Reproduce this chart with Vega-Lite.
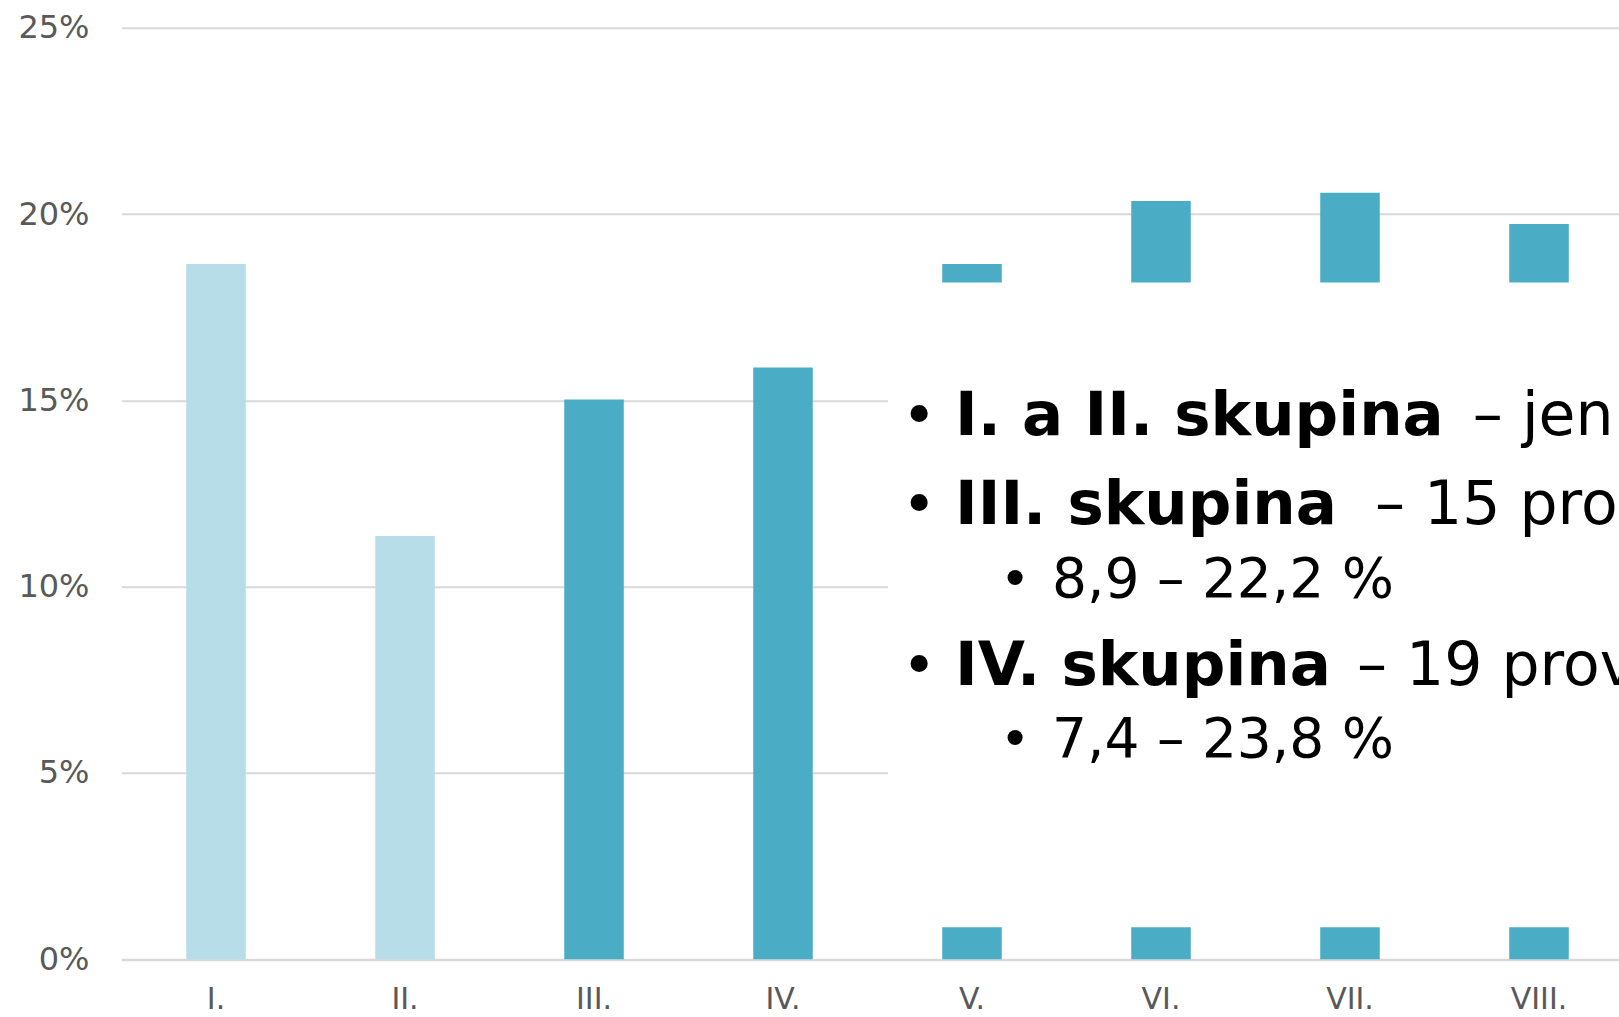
{
  "$schema": "https://vega.github.io/schema/vega-lite/v6.json",
  "usermeta": {"embedOptions": {"actions": false}},
  "width": 1490.5,
  "height": 931.5,
  "autosize": {"type": "none"},
  "padding": {"left": 121.5, "top": 27.7, "right": 7, "bottom": 57.8},
  "background": "white",
  "config": {"view": {"stroke": null}, "font": "DejaVu Sans"},
  "datasets": {
    "bars": [
      {"skupina": "I.", "typ": "I.–II.", "podil": 18.66},
      {"skupina": "II.", "typ": "I.–II.", "podil": 11.36},
      {"skupina": "III.", "typ": "III.–VIII.", "podil": 15.02},
      {"skupina": "IV.", "typ": "III.–VIII.", "podil": 15.88},
      {"skupina": "V.", "typ": "III.–VIII.", "podil": 18.66},
      {"skupina": "VI.", "typ": "III.–VIII.", "podil": 20.35},
      {"skupina": "VII.", "typ": "III.–VIII.", "podil": 20.57},
      {"skupina": "VIII.", "typ": "III.–VIII.", "podil": 19.73}
    ],
    "box": [{"x0": 4.056, "x1": 8.3, "y0": 0.86, "y1": 18.16}],
    "notes": [
      {"radek": 1, "cast": "odrazka1", "text": "•", "x": 4.22, "y": 14.08},
      {"radek": 1, "cast": "nadpis", "text": "I. a II. skupina", "x": 4.41, "y": 14.08},
      {"radek": 1, "cast": "popis", "text": "– jen", "x": 7.15, "y": 14.08},
      {"radek": 2, "cast": "odrazka1", "text": "•", "x": 4.22, "y": 11.68},
      {"radek": 2, "cast": "nadpis", "text": "III. skupina", "x": 4.41, "y": 11.68},
      {"radek": 2, "cast": "popis", "text": "– 15 provozoven", "x": 6.632, "y": 11.68},
      {"radek": 3, "cast": "odrazka2", "text": "•", "x": 4.728, "y": 9.73},
      {"radek": 3, "cast": "rozsah", "text": "8,9 – 22,2 %", "x": 4.923, "y": 9.73},
      {"radek": 4, "cast": "odrazka1", "text": "•", "x": 4.22, "y": 7.36},
      {"radek": 4, "cast": "nadpis", "text": "IV. skupina", "x": 4.41, "y": 7.36},
      {"radek": 4, "cast": "popis", "text": "– 19 provozoven", "x": 6.537, "y": 7.36},
      {"radek": 5, "cast": "odrazka2", "text": "•", "x": 4.728, "y": 5.43},
      {"radek": 5, "cast": "rozsah", "text": "7,4 – 23,8 %", "x": 4.923, "y": 5.43}
    ]
  },
  "resolve": {"scale": {"x": "independent"}},
  "layer": [
    {
      "data": {"name": "bars"},
      "mark": {"type": "bar"},
      "encoding": {
        "x": {
          "field": "skupina", "type": "nominal", "sort": null,
          "scale": {"range": [0, 1512], "paddingInner": 0.685, "paddingOuter": 0.3425},
          "axis": {
            "title": null, "labelAngle": 0, "labelFont": "DejaVu Sans", "labelFontSize": 30,
            "labelColor": "#595959", "labelPadding": 49, "labelBaseline": "alphabetic",
            "ticks": false, "tickSize": 0,
            "domainColor": "#d9d9d9", "domainWidth": 2, "grid": false
          }
        },
        "y": {
          "field": "podil", "type": "quantitative",
          "scale": {"domain": [0, 25], "nice": false},
          "axis": {
            "title": null, "values": [0, 5, 10, 15, 20, 25], "labelExpr": "datum.value + '%'",
            "labelFont": "DejaVu Sans", "labelFontSize": 32, "labelColor": "#595959",
            "labelPadding": 32.5, "ticks": false, "tickSize": 0, "domain": false,
            "grid": true, "gridColor": "#d9d9d9", "gridWidth": 2
          }
        },
        "color": {
          "field": "typ", "type": "nominal",
          "scale": {"domain": ["I.–II.", "III.–VIII."], "range": ["#b7dee8", "#4bacc6"]},
          "legend": null
        }
      }
    },
    {
      "layer": [
        {
          "data": {"name": "box"},
          "mark": {"type": "rect", "fill": "white"},
          "encoding": {
            "x": {"field": "x0", "type": "quantitative", "scale": {"domain": [0, 8], "range": [0, 1512], "nice": false, "zero": false}, "axis": null},
            "x2": {"field": "x1"},
            "y": {"field": "y0", "type": "quantitative"},
            "y2": {"field": "y1"}
          }
        },
        {
          "data": {"name": "notes"},
          "transform": [{"filter": "datum.cast === 'odrazka1'"}],
          "mark": {"type": "text", "align": "center", "baseline": "alphabetic", "fontSize": 59, "font": "DejaVu Sans", "color": "black"},
          "encoding": {
            "x": {"field": "x", "type": "quantitative", "axis": null},
            "y": {"field": "y", "type": "quantitative"},
            "text": {"field": "text"}
          }
        },
        {
          "data": {"name": "notes"},
          "transform": [{"filter": "datum.cast === 'odrazka2'"}],
          "mark": {"type": "text", "align": "center", "baseline": "alphabetic", "fontSize": 52, "font": "DejaVu Sans", "color": "black"},
          "encoding": {
            "x": {"field": "x", "type": "quantitative", "axis": null},
            "y": {"field": "y", "type": "quantitative"},
            "text": {"field": "text"}
          }
        },
        {
          "data": {"name": "notes"},
          "transform": [{"filter": "datum.cast === 'nadpis'"}],
          "mark": {"type": "text", "align": "left", "baseline": "alphabetic", "fontSize": 61, "fontWeight": "bold", "font": "DejaVu Sans", "color": "black"},
          "encoding": {
            "x": {"field": "x", "type": "quantitative", "axis": null},
            "y": {"field": "y", "type": "quantitative"},
            "text": {"field": "text"}
          }
        },
        {
          "data": {"name": "notes"},
          "transform": [{"filter": "datum.cast === 'popis'"}],
          "mark": {"type": "text", "align": "left", "baseline": "alphabetic", "fontSize": 60, "font": "DejaVu Sans", "color": "black"},
          "encoding": {
            "x": {"field": "x", "type": "quantitative", "axis": null},
            "y": {"field": "y", "type": "quantitative"},
            "text": {"field": "text"}
          }
        },
        {
          "data": {"name": "notes"},
          "transform": [{"filter": "datum.cast === 'rozsah'"}],
          "mark": {"type": "text", "align": "left", "baseline": "alphabetic", "fontSize": 55, "font": "DejaVu Sans", "color": "black"},
          "encoding": {
            "x": {"field": "x", "type": "quantitative", "axis": null},
            "y": {"field": "y", "type": "quantitative"},
            "text": {"field": "text"}
          }
        }
      ]
    }
  ]
}
